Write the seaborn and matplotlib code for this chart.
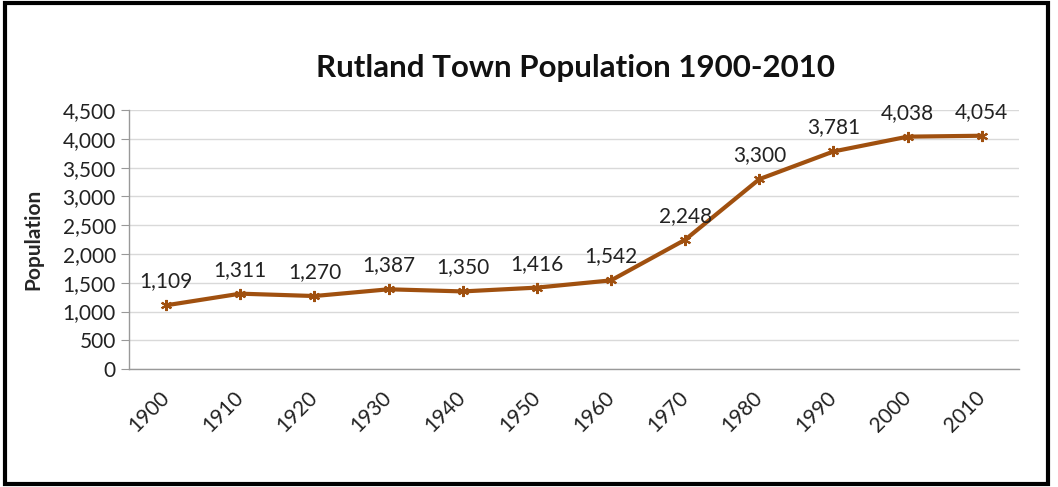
import numpy as np
import matplotlib
matplotlib.use("Agg")
import matplotlib.pyplot as plt
import seaborn as sns
from matplotlib.patches import Rectangle

years = ["1900", "1910", "1920", "1930", "1940", "1950",
         "1960", "1970", "1980", "1990", "2000", "2010"]
population = [1109, 1311, 1270, 1387, 1350, 1416,
              1542, 2248, 3300, 3781, 4038, 4054]
y_ticks = [0, 500, 1000, 1500, 2000, 2500, 3000, 3500, 4000, 4500]

sns.set_style("white")
plt.rcParams["font.family"] = ["Lato", "DejaVu Sans"]

line_color = "#A0500F"
fig = plt.figure(figsize=(10.58, 4.87), dpi=100)
ax = fig.add_axes([0.122, 0.242, 0.841, 0.532])

pos = np.arange(len(years))
sns.lineplot(x=pos, y=population, ax=ax, color=line_color, linewidth=3,
             marker=(6, 2, 0), markersize=8, markeredgewidth=1.5,
             markeredgecolor=line_color)

for xi, v in zip(pos, population):
    ax.annotate(f"{v:,}", (xi, v), xytext=(0, 10), textcoords="offset points",
                ha="center", va="bottom", fontsize=15, color="#222222")

ax.set_xlim(-0.5, len(years) - 0.5)
ax.set_ylim(0, 4500)
ax.set_yticks(y_ticks)
ax.set_yticklabels([f"{t:,}" for t in y_ticks], fontsize=15, color="#222222")
ax.set_xticks(np.arange(-0.5, len(years), 1.0))
ax.set_xticklabels([])
ax.set_xticks(pos, minor=True)
ax.set_xticklabels(years, minor=True, rotation=45, ha="right", va="center",
                   rotation_mode="anchor", fontsize=15, color="#222222")
ax.tick_params(axis="x", which="major", length=6, color="#999999", direction="out")
ax.tick_params(axis="x", which="minor", length=0, pad=18)
ax.tick_params(axis="y", length=6, color="#999999", direction="out", left=True)

ax.grid(axis="y", color="#d9d9d9", linewidth=1)
ax.set_axisbelow(True)
for s in ["top", "right"]:
    ax.spines[s].set_visible(False)
for s in ["left", "bottom"]:
    ax.spines[s].set_color("#999999")
    ax.spines[s].set_linewidth(1)

ax.set_ylabel("Population", fontsize=15, fontweight="bold", labelpad=14)
fig.text(0.544, 0.86, "Rutland Town Population 1900-2010", ha="center",
         va="center", fontsize=22.5, fontweight="bold", color="#111111")

fig.patches.append(Rectangle((5 / 1058, 3 / 487), 1043 / 1058, 481 / 487,
                             transform=fig.transFigure, fill=False,
                             edgecolor="black", linewidth=3))

fig.savefig("out.png", dpi=100)
